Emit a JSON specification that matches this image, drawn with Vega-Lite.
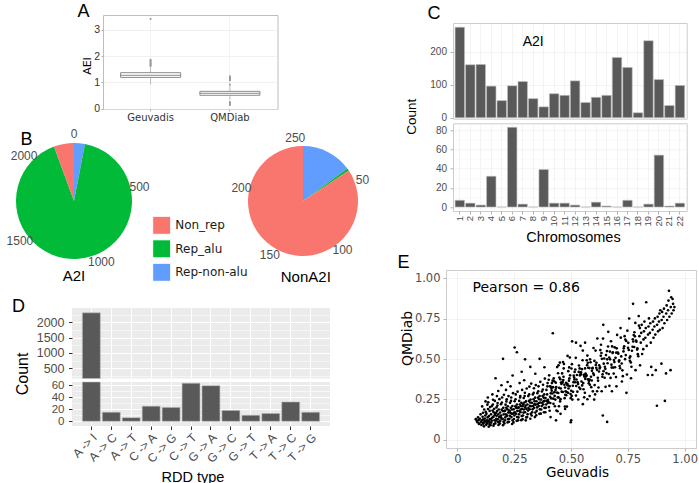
{
"$schema": "https://vega.github.io/schema/vega-lite/v6.json",
"padding": 0,
"background": "white",
"bounds": "flush",
"spacing": 0,
"resolve": {"scale": {"color": "independent"}, "legend": {"color": "independent"}},
"config": {
  "view": {"stroke": null},
  "font": "Liberation Sans",
  "axis": {"domain": false, "labelFont": "Liberation Sans", "titleFont": "Liberation Sans", "titleFontWeight": "normal", "titleColor": "black", "labelColor": "#4D4D4D", "labelFlush": false, "labelOverlap": false, "labelBound": false},
  "title": {"font": "Liberation Sans", "fontSize": 18, "fontWeight": "normal", "color": "black", "anchor": "start", "frame": "group", "baseline": "alphabetic"}
},
"hconcat": [
{
  "bounds": "flush", "spacing": 0,
  "resolve": {"scale": {"color": "independent"}, "legend": {"color": "independent"}},
  "vconcat": [
    {"width": 1, "height": 14.3, "data": {"values": []}, "mark": "point", "encoding": {}},
    {"bounds": "flush", "spacing": 0, "hconcat": [
      {"width": 102.5, "height": 1, "data": {"values": []}, "mark": "point", "encoding": {}},
      {
        "width": 174.5, "height": 94,
        "view": {"stroke": "#BDBDBD", "fill": "white"},
        "title": {"text": "A", "dx": -25.5, "offset": -5.5},
        "data": {"values": [
          {"cohort": "Geuvadis", "part": "whisker", "aei": 0.92, "aei2": 1.6},
          {"cohort": "QMDiab", "part": "whisker", "aei": 0.33, "aei2": 0.9},
          {"cohort": "Geuvadis", "part": "box", "aei": 1.19, "aei2": 1.37},
          {"cohort": "QMDiab", "part": "box", "aei": 0.51, "aei2": 0.66},
          {"cohort": "Geuvadis", "part": "median", "aei": 1.27},
          {"cohort": "QMDiab", "part": "median", "aei": 0.58},
          {"cohort": "Geuvadis", "part": "outlier", "aei": 1.62}, {"cohort": "Geuvadis", "part": "outlier", "aei": 1.65}, {"cohort": "Geuvadis", "part": "outlier", "aei": 1.68},
          {"cohort": "Geuvadis", "part": "outlier", "aei": 1.71}, {"cohort": "Geuvadis", "part": "outlier", "aei": 1.74}, {"cohort": "Geuvadis", "part": "outlier", "aei": 1.77},
          {"cohort": "Geuvadis", "part": "outlier", "aei": 1.8}, {"cohort": "Geuvadis", "part": "outlier", "aei": 1.83}, {"cohort": "Geuvadis", "part": "outlier", "aei": 1.86},
          {"cohort": "Geuvadis", "part": "outlier", "aei": 3.41},
          {"cohort": "QMDiab", "part": "outlier", "aei": 0.92}, {"cohort": "QMDiab", "part": "outlier", "aei": 1.07}, {"cohort": "QMDiab", "part": "outlier", "aei": 1.1},
          {"cohort": "QMDiab", "part": "outlier", "aei": 1.13}, {"cohort": "QMDiab", "part": "outlier", "aei": 1.16}, {"cohort": "QMDiab", "part": "outlier", "aei": 1.2},
          {"cohort": "QMDiab", "part": "outlier", "aei": 1.23}, {"cohort": "QMDiab", "part": "outlier", "aei": 0.14}, {"cohort": "QMDiab", "part": "outlier", "aei": 0.17},
          {"cohort": "QMDiab", "part": "outlier", "aei": 0.2}, {"cohort": "QMDiab", "part": "outlier", "aei": 0.23}, {"cohort": "QMDiab", "part": "outlier", "aei": 0.26}
        ]},
        "encoding": {
          "x": {"field": "cohort", "type": "nominal", "scale": {"domain": ["Geuvadis", "QMDiab"], "paddingInner": 0, "paddingOuter": 0.1},
                "axis": {"title": null, "labelFont": "DejaVu Sans", "labelFontSize": 10, "labelColor": "#333333", "labelAngle": 0, "tickSize": 2, "tickColor": "#B3B3B3", "labelPadding": 1.5, "grid": true, "gridColor": "#EBEBEB", "gridWidth": 0.6, "bandPosition": 0.5}},
          "y": {"field": "aei", "type": "quantitative", "title": "AEI", "scale": {"domain": [-0.01, 3.56], "nice": false, "zero": false},
                "axis": {"title": "AEI", "titleFont": "DejaVu Sans", "titleFontSize": 11, "titleX": -10.5, "titleY": 50.5, "titleAngle": 270, "titleAlign": "center", "titleBaseline": "bottom",
                         "tickCount": 4, "labelOverlap": false, "labelBound": false, "labelFlush": false,
                         "labelFont": "Liberation Sans", "labelFontSize": 10.5, "labelColor": "#333333", "labelPadding": 1.5, "tickSize": 2, "tickColor": "#B3B3B3",
                         "grid": true, "gridColor": "#E8E8E8", "gridWidth": 0.6}}
        },
        "layer": [
          {"transform": [{"filter": "datum.part === 'whisker'"}],
           "mark": {"type": "rule", "color": "#BDBDBD", "strokeWidth": 1},
           "encoding": {"y2": {"field": "aei2"}}},
          {"transform": [{"filter": "datum.part === 'box'"}],
           "mark": {"type": "bar", "fill": "white", "stroke": "#8C8C8C", "strokeWidth": 1, "width": {"band": 0.757}},
           "encoding": {"y2": {"field": "aei2"}}},
          {"transform": [{"filter": "datum.part === 'median'"}],
           "mark": {"type": "tick", "color": "#7A7A7A", "thickness": 1.3, "size": 60}},
          {"transform": [{"filter": "datum.part === 'outlier'"}],
           "mark": {"type": "circle", "color": "#999999", "size": 4, "opacity": 1}}
        ]
      }
    ]},
    {"width": 1, "height": 127.7, "data": {"values": []}, "mark": "point", "encoding": {}},
    {"bounds": "flush", "spacing": 0, "hconcat": [
      {"width": 16, "height": 1, "data": {"values": []}, "mark": "point", "encoding": {}, "title": {"text": "B", "dx": 20.5, "offset": -5.5}},
      {
        "width": 116, "height": 116,
        "title": {"text": "A2I", "orient": "bottom", "anchor": "middle", "baseline": "top", "fontSize": 15, "offset": 1.3},
        "layer": [
          {"data": {"values": [{"cat": "Rep-non-alu", "count": 70, "ord": 1}, {"cat": "Rep_alu", "count": 2110, "ord": 2}, {"cat": "Non_rep", "count": 129, "ord": 3}]},
           "mark": {"type": "arc", "outerRadius": 58},
           "encoding": {
             "theta": {"field": "count", "type": "quantitative", "stack": true, "scale": {"domain": [0, 2309]}},
             "order": {"field": "ord", "type": "quantitative"},
             "color": {"field": "cat", "type": "nominal", "scale": {"domain": ["Non_rep", "Rep_alu", "Rep-non-alu"], "range": ["#F8766D", "#00BA38", "#619CFF"]},
                       "legend": {"orient": "none", "legendX": 152.2, "legendY": 72.8, "title": null, "symbolType": "square", "symbolSize": 324, "symbolStrokeColor": "white", "symbolStrokeWidth": 1, "symbolOpacity": 1, "labelFont": "DejaVu Sans", "labelFontSize": 12, "labelColor": "#1A1A1A", "labelOffset": 4, "rowPadding": 0.5, "padding": 0}}
           }},
          {"data": {"values": [{"tick": 0}, {"tick": 500}, {"tick": 1000}, {"tick": 1500}, {"tick": 2000}]},
           "mark": {"type": "text", "radius": 67, "fontSize": 12, "color": "#4D4D4D", "font": "Liberation Sans"},
           "encoding": {"theta": {"field": "tick", "type": "quantitative", "stack": false}, "text": {"field": "tick", "type": "quantitative", "format": "d"}}}
        ]
      },
      {"width": 113, "height": 1, "data": {"values": []}, "mark": "point", "encoding": {}},
      {
        "width": 116, "height": 116,
        "title": {"text": "NonA2I", "orient": "bottom", "anchor": "middle", "baseline": "top", "fontSize": 15, "offset": 9, "dx": 2.8},
        "layer": [
          {"data": {"values": [{"cat": "Rep-non-alu", "count": 38, "ord": 1}, {"cat": "Rep_alu", "count": 2, "ord": 2}, {"cat": "Non_rep", "count": 215, "ord": 3}]},
           "mark": {"type": "arc", "outerRadius": 55},
           "encoding": {
             "theta": {"field": "count", "type": "quantitative", "stack": true, "scale": {"domain": [0, 255]}},
             "order": {"field": "ord", "type": "quantitative"},
             "color": {"field": "cat", "type": "nominal", "scale": {"domain": ["Non_rep", "Rep_alu", "Rep-non-alu"], "range": ["#F8766D", "#00BA38", "#619CFF"]},
                       "legend": {"orient": "none", "legendX": 152.2, "legendY": 72.8, "title": null, "symbolType": "square", "symbolSize": 324, "symbolStrokeColor": "white", "symbolStrokeWidth": 1, "symbolOpacity": 1, "labelFont": "DejaVu Sans", "labelFontSize": 12, "labelColor": "#1A1A1A", "labelOffset": 4, "rowPadding": 0.5, "padding": 0}}
           }},
          {"data": {"values": [{"tick": 50}, {"tick": 100}, {"tick": 150}, {"tick": 200}, {"tick": 250}]},
           "mark": {"type": "text", "radius": 63, "fontSize": 12, "color": "#4D4D4D", "font": "Liberation Sans"},
           "encoding": {"theta": {"field": "tick", "type": "quantitative", "stack": false}, "text": {"field": "tick", "type": "quantitative", "format": "d"}}}
        ]
      }
    ]},
    {"width": 1, "height": 164.7, "data": {"values": []}, "mark": "point", "encoding": {}},
    {"bounds": "flush", "spacing": 0, "hconcat": [
      {"width": 72, "height": 1, "data": {"values": []}, "mark": "point", "encoding": {}},
      {"bounds": "flush", "spacing": 3, "vconcat": [
        {
          "width": 258, "height": 70.6,
          "view": {"fill": "#EBEBEB", "stroke": null},
          "title": {"text": "D", "dx": -60, "offset": -7.8},
          "data": {"values": [
            {"rdd": "A -> I", "count": 2309}, {"rdd": "A -> C", "count": 15}, {"rdd": "A -> T", "count": 6}, {"rdd": "C -> A", "count": 25},
            {"rdd": "C -> G", "count": 23}, {"rdd": "C -> T", "count": 63}, {"rdd": "G -> A", "count": 59}, {"rdd": "G -> C", "count": 18},
            {"rdd": "G -> T", "count": 10}, {"rdd": "T -> A", "count": 13}, {"rdd": "T -> C", "count": 32}, {"rdd": "T -> G", "count": 15}
          ]},
          "transform": [{"filter": "datum.count > 164"}],
          "mark": {"type": "bar", "color": "#595959", "stroke": "#BDBDBD", "strokeWidth": 0.6},
          "encoding": {
            "x": {"field": "rdd", "type": "nominal", "scale": {"domain": ["A -> I", "A -> C", "A -> T", "C -> A", "C -> G", "C -> T", "G -> A", "G -> C", "G -> T", "T -> A", "T -> C", "T -> G"], "paddingInner": 0.1, "paddingOuter": 0.52},
                  "axis": {"title": null, "labels": false, "ticks": false, "grid": true, "gridColor": "white", "gridWidth": 1.1, "bandPosition": 0.5}},
            "y": {"field": "count", "type": "quantitative", "scale": {"domain": [164, 2466], "nice": false, "zero": false, "clamp": true},
                  "axis": {"title": null, "values": [250, 500, 750, 1000, 1250, 1500, 1750, 2000, 2250], "labelExpr": "datum.value % 500 === 0 ? format(datum.value, 'd') : ''",
                           "labelFontSize": 12.5, "labelPadding": 4.5, "tickSize": 3.5, "tickColor": "#333333",
                           "tickOpacity": {"condition": {"test": "datum.value % 500 === 0", "value": 1}, "value": 0},
                           "grid": true, "gridColor": "white", "gridWidth": {"condition": {"test": "datum.value % 500 === 0", "value": 1.1}, "value": 0.55}}},
            "y2": {"datum": 0}
          }
        },
        {
          "width": 258, "height": 44,
          "view": {"fill": "#EBEBEB", "stroke": null},
          "data": {"values": [
            {"rdd": "A -> I", "count": 2309}, {"rdd": "A -> C", "count": 15}, {"rdd": "A -> T", "count": 6}, {"rdd": "C -> A", "count": 25},
            {"rdd": "C -> G", "count": 23}, {"rdd": "C -> T", "count": 63}, {"rdd": "G -> A", "count": 59}, {"rdd": "G -> C", "count": 18},
            {"rdd": "G -> T", "count": 10}, {"rdd": "T -> A", "count": 13}, {"rdd": "T -> C", "count": 32}, {"rdd": "T -> G", "count": 15}
          ]},
          "mark": {"type": "bar", "color": "#595959", "stroke": "#BDBDBD", "strokeWidth": 0.6},
          "encoding": {
            "x": {"field": "rdd", "type": "nominal", "scale": {"domain": ["A -> I", "A -> C", "A -> T", "C -> A", "C -> G", "C -> T", "G -> A", "G -> C", "G -> T", "T -> A", "T -> C", "T -> G"], "paddingInner": 0.1, "paddingOuter": 0.52},
                  "axis": {"title": "RDD type", "titleFontSize": 14.5, "titleX": 120.5, "titleY": 44, "titleBaseline": "top", "titleAlign": "center",
                           "labelAngle": -45, "labelAlign": "right", "labelBaseline": "top", "labelFontSize": 12, "labelPadding": 2, "tickSize": 3.5, "tickColor": "#333333",
                           "grid": true, "gridColor": "white", "gridWidth": 1.1, "bandPosition": 0.5}},
            "y": {"field": "count", "type": "quantitative", "scale": {"domain": [-7.8, 65], "nice": false, "zero": false, "clamp": true},
                  "axis": {"title": "Count", "titleFontSize": 16, "titleX": -42, "titleY": -8.6, "titleAngle": 270, "titleAlign": "center", "titleBaseline": "bottom",
                           "values": [0, 10, 20, 30, 40, 50, 60], "labelExpr": "datum.value % 20 === 0 ? datum.label : ''",
                           "labelFontSize": 11.5, "labelPadding": 4.5, "tickSize": 3.5, "tickColor": "#333333",
                           "tickOpacity": {"condition": {"test": "datum.value % 20 === 0", "value": 1}, "value": 0},
                           "grid": true, "gridColor": "white", "gridWidth": {"condition": {"test": "datum.value % 20 === 0", "value": 1.1}, "value": 0.55}}},
            "y2": {"datum": 0}
          }
        }
      ]}
    ]}
  ]
},
{"width": 446, "height": 1, "data": {"values": []}, "mark": "point", "encoding": {}},
{
  "bounds": "flush", "spacing": 0,
  "vconcat": [
    {"width": 1, "height": 22.3, "data": {"values": []}, "mark": "point", "encoding": {}},
    {"bounds": "flush", "spacing": 0, "hconcat": [
      {"width": 7, "height": 1, "data": {"values": []}, "mark": "point", "encoding": {}},
      {"bounds": "flush", "spacing": 4.3, "vconcat": [
        {
          "width": 233.7, "height": 95.7,
          "view": {"stroke": "#CCCCCC", "fill": "white"},
          "title": {"text": "C", "dx": -25.6, "offset": 0.1},
          "data": {"values": [
            {"chrom": "1", "a2i": 275, "nona2i": 7}, {"chrom": "2", "a2i": 161, "nona2i": 4}, {"chrom": "3", "a2i": 162, "nona2i": 2}, {"chrom": "4", "a2i": 96, "nona2i": 32},
            {"chrom": "5", "a2i": 52, "nona2i": 0}, {"chrom": "6", "a2i": 97, "nona2i": 83}, {"chrom": "7", "a2i": 110, "nona2i": 3}, {"chrom": "8", "a2i": 58, "nona2i": 0},
            {"chrom": "9", "a2i": 33, "nona2i": 39}, {"chrom": "10", "a2i": 73, "nona2i": 4}, {"chrom": "11", "a2i": 68, "nona2i": 4}, {"chrom": "12", "a2i": 112, "nona2i": 2},
            {"chrom": "13", "a2i": 46, "nona2i": 0}, {"chrom": "14", "a2i": 62, "nona2i": 5}, {"chrom": "15", "a2i": 68, "nona2i": 1}, {"chrom": "16", "a2i": 183, "nona2i": 0},
            {"chrom": "17", "a2i": 153, "nona2i": 7}, {"chrom": "18", "a2i": 15, "nona2i": 0}, {"chrom": "19", "a2i": 234, "nona2i": 3}, {"chrom": "20", "a2i": 116, "nona2i": 54},
            {"chrom": "21", "a2i": 37, "nona2i": 1}, {"chrom": "22", "a2i": 98, "nona2i": 4}
          ]},
          "layer": [
            {"mark": {"type": "bar", "color": "#595959", "stroke": "#BDBDBD", "strokeWidth": 0.6},
             "encoding": {
               "x": {"field": "chrom", "type": "nominal", "sort": null, "scale": {"domain": ["1","2","3","4","5","6","7","8","9","10","11","12","13","14","15","16","17","18","19","20","21","22"], "paddingInner": 0.1, "paddingOuter": 0.2},
                     "axis": {"title": null, "labels": false, "ticks": false, "grid": true, "gridColor": "#EDEDED", "gridWidth": 0.6, "bandPosition": 0.5}},
               "y": {"field": "a2i", "type": "quantitative", "scale": {"domain": [-3, 288], "nice": false, "zero": false},
                     "axis": {"title": null, "values": [0, 50, 100, 150, 200, 250], "labelExpr": "datum.value % 100 === 0 ? datum.label : ''",
                              "labelFontSize": 10, "labelPadding": 3.5, "tickSize": 3, "tickColor": "#B3B3B3",
                              "tickOpacity": {"condition": {"test": "datum.value % 100 === 0", "value": 1}, "value": 0},
                              "grid": true, "gridColor": {"condition": {"test": "datum.value % 100 === 0", "value": "#EBEBEB"}, "value": "#F5F5F5"}, "gridWidth": 0.6}},
               "y2": {"datum": 0}
             }},
            {"data": {"values": [{"chrom": "8", "a2i": 231, "label": "A2I"}]},
             "mark": {"type": "text", "fontSize": 14, "color": "black", "font": "Liberation Sans"},
             "encoding": {"x": {"field": "chrom", "type": "nominal"}, "y": {"field": "a2i", "type": "quantitative"}, "text": {"field": "label"}}}
          ]
        },
        {
          "width": 233.7, "height": 87.7,
          "view": {"stroke": "#CCCCCC", "fill": "white"},
          "data": {"values": [
            {"chrom": "1", "a2i": 275, "nona2i": 7}, {"chrom": "2", "a2i": 161, "nona2i": 4}, {"chrom": "3", "a2i": 162, "nona2i": 2}, {"chrom": "4", "a2i": 96, "nona2i": 32},
            {"chrom": "5", "a2i": 52, "nona2i": 0}, {"chrom": "6", "a2i": 97, "nona2i": 83}, {"chrom": "7", "a2i": 110, "nona2i": 3}, {"chrom": "8", "a2i": 58, "nona2i": 0},
            {"chrom": "9", "a2i": 33, "nona2i": 39}, {"chrom": "10", "a2i": 73, "nona2i": 4}, {"chrom": "11", "a2i": 68, "nona2i": 4}, {"chrom": "12", "a2i": 112, "nona2i": 2},
            {"chrom": "13", "a2i": 46, "nona2i": 0}, {"chrom": "14", "a2i": 62, "nona2i": 5}, {"chrom": "15", "a2i": 68, "nona2i": 1}, {"chrom": "16", "a2i": 183, "nona2i": 0},
            {"chrom": "17", "a2i": 153, "nona2i": 7}, {"chrom": "18", "a2i": 15, "nona2i": 0}, {"chrom": "19", "a2i": 234, "nona2i": 3}, {"chrom": "20", "a2i": 116, "nona2i": 54},
            {"chrom": "21", "a2i": 37, "nona2i": 1}, {"chrom": "22", "a2i": 98, "nona2i": 4}
          ]},
          "mark": {"type": "bar", "color": "#595959", "stroke": "#BDBDBD", "strokeWidth": 0.6},
          "encoding": {
            "x": {"field": "chrom", "type": "nominal", "sort": null, "scale": {"domain": ["1","2","3","4","5","6","7","8","9","10","11","12","13","14","15","16","17","18","19","20","21","22"], "paddingInner": 0.1, "paddingOuter": 0.2},
                  "axis": {"title": "Chromosomes", "titleFontSize": 14.5, "titleX": 120, "titleY": 19, "titleBaseline": "top", "titleAlign": "center",
                           "labelAngle": 270, "labelAlign": "right", "labelBaseline": "middle", "labelFontSize": 9.5, "labelPadding": 1.5, "tickSize": 3, "tickColor": "#B3B3B3",
                           "grid": true, "gridColor": "#EDEDED", "gridWidth": 0.6, "bandPosition": 0.5}},
            "y": {"field": "nona2i", "type": "quantitative", "scale": {"domain": [-4.15, 87.15], "nice": false, "zero": false},
                  "axis": {"title": "Count", "titleFontSize": 13.5, "titleX": -35, "titleY": -7, "titleAngle": 270, "titleAlign": "center", "titleBaseline": "bottom",
                           "values": [0, 10, 20, 30, 40, 50, 60, 70, 80], "labelExpr": "datum.value % 20 === 0 ? datum.label : ''",
                           "labelFontSize": 10, "labelPadding": 3.5, "tickSize": 3, "tickColor": "#B3B3B3",
                           "tickOpacity": {"condition": {"test": "datum.value % 20 === 0", "value": 1}, "value": 0},
                           "grid": true, "gridColor": {"condition": {"test": "datum.value % 20 === 0", "value": "#EBEBEB"}, "value": "#F5F5F5"}, "gridWidth": 0.6}},
            "y2": {"datum": 0}
          }
        }
      ]}
    ]},
    {"width": 1, "height": 246.7, "data": {"values": []}, "mark": "point", "encoding": {}},
    {
      "width": 250, "height": 178,
      "view": {"stroke": "#CCCCCC", "fill": "white"},
      "title": {"text": "E", "dx": -48.5, "offset": -1.5},
      "layer": [
        {"data": {"values": [
{"g":0.081,"q":0.128},{"g":0.085,"q":0.118},{"g":0.088,"q":0.109},{"g":0.091,"q":0.139},{"g":0.093,"q":0.122},{"g":0.097,"q":0.101},{"g":0.099,"q":0.131},{"g":0.102,"q":0.158},{"g":0.104,"q":0.112},{"g":0.095,"q":0.098},
{"g":0.106,"q":0.092},{"g":0.108,"q":0.121},{"g":0.111,"q":0.143},{"g":0.113,"q":0.168},{"g":0.109,"q":0.207},{"g":0.115,"q":0.101},{"g":0.117,"q":0.084},{"g":0.119,"q":0.113},{"g":0.121,"q":0.132},{"g":0.123,"q":0.151},{"g":0.118,"q":0.188},{"g":0.124,"q":0.238},{"g":0.112,"q":0.104},{"g":0.122,"q":0.118},{"g":0.114,"q":0.127},{"g":0.125,"q":0.173},
{"g":0.127,"q":0.093},{"g":0.129,"q":0.108},{"g":0.131,"q":0.121},{"g":0.133,"q":0.139},{"g":0.128,"q":0.162},{"g":0.135,"q":0.191},{"g":0.132,"q":0.218},{"g":0.134,"q":0.262},{"g":0.138,"q":0.082},{"g":0.141,"q":0.099},{"g":0.137,"q":0.117},{"g":0.143,"q":0.128},{"g":0.139,"q":0.148},{"g":0.142,"q":0.179},{"g":0.144,"q":0.203},{"g":0.136,"q":0.232},{"g":0.14,"q":0.112},{"g":0.13,"q":0.102},
{"g":0.146,"q":0.091},{"g":0.149,"q":0.107},{"g":0.151,"q":0.119},{"g":0.153,"q":0.137},{"g":0.148,"q":0.158},{"g":0.155,"q":0.181},{"g":0.152,"q":0.209},{"g":0.157,"q":0.248},{"g":0.154,"q":0.281},{"g":0.147,"q":0.129},{"g":0.159,"q":0.088},{"g":0.161,"q":0.098},{"g":0.163,"q":0.121},{"g":0.158,"q":0.142},{"g":0.164,"q":0.152},{"g":0.16,"q":0.171},{"g":0.162,"q":0.192},{"g":0.156,"q":0.219},{"g":0.165,"q":0.241},{"g":0.168,"q":0.381},
{"g":0.167,"q":0.102},{"g":0.169,"q":0.118},{"g":0.171,"q":0.131},{"g":0.173,"q":0.149},{"g":0.166,"q":0.161},{"g":0.175,"q":0.178},{"g":0.172,"q":0.201},{"g":0.177,"q":0.228},{"g":0.174,"q":0.271},{"g":0.179,"q":0.111},{"g":0.181,"q":0.092},{"g":0.183,"q":0.108},{"g":0.178,"q":0.127},{"g":0.184,"q":0.141},{"g":0.18,"q":0.158},{"g":0.182,"q":0.188},{"g":0.176,"q":0.212},{"g":0.185,"q":0.252},{"g":0.18,"q":0.302},{"g":0.17,"q":0.168},
{"g":0.187,"q":0.101},{"g":0.189,"q":0.119},{"g":0.191,"q":0.138},{"g":0.193,"q":0.151},{"g":0.188,"q":0.169},{"g":0.195,"q":0.187},{"g":0.192,"q":0.221},{"g":0.197,"q":0.262},{"g":0.194,"q":0.338},{"g":0.199,"q":0.129},{"g":0.201,"q":0.091},{"g":0.203,"q":0.112},{"g":0.198,"q":0.131},{"g":0.204,"q":0.158},{"g":0.2,"q":0.178},{"g":0.202,"q":0.198},{"g":0.196,"q":0.231},{"g":0.205,"q":0.279},{"g":0.201,"q":0.501},{"g":0.19,"q":0.148},
{"g":0.207,"q":0.102},{"g":0.209,"q":0.121},{"g":0.211,"q":0.139},{"g":0.213,"q":0.158},{"g":0.208,"q":0.178},{"g":0.215,"q":0.199},{"g":0.212,"q":0.218},{"g":0.217,"q":0.251},{"g":0.214,"q":0.309},{"g":0.219,"q":0.149},{"g":0.221,"q":0.108},{"g":0.223,"q":0.128},{"g":0.218,"q":0.151},{"g":0.224,"q":0.169},{"g":0.22,"q":0.189},{"g":0.222,"q":0.208},{"g":0.216,"q":0.238},{"g":0.225,"q":0.271},{"g":0.221,"q":0.358},{"g":0.21,"q":0.181},
{"g":0.227,"q":0.112},{"g":0.229,"q":0.131},{"g":0.231,"q":0.149},{"g":0.233,"q":0.168},{"g":0.228,"q":0.181},{"g":0.235,"q":0.198},{"g":0.232,"q":0.229},{"g":0.237,"q":0.262},{"g":0.234,"q":0.331},{"g":0.239,"q":0.162},{"g":0.241,"q":0.098},{"g":0.243,"q":0.121},{"g":0.238,"q":0.141},{"g":0.244,"q":0.161},{"g":0.24,"q":0.188},{"g":0.242,"q":0.209},{"g":0.236,"q":0.241},{"g":0.245,"q":0.289},{"g":0.243,"q":0.398},{"g":0.23,"q":0.178},
{"g":0.247,"q":0.108},{"g":0.249,"q":0.129},{"g":0.251,"q":0.151},{"g":0.253,"q":0.171},{"g":0.248,"q":0.189},{"g":0.255,"q":0.208},{"g":0.252,"q":0.239},{"g":0.257,"q":0.281},{"g":0.252,"q":0.571},{"g":0.259,"q":0.198},{"g":0.261,"q":0.118},{"g":0.263,"q":0.141},{"g":0.258,"q":0.161},{"g":0.264,"q":0.179},{"g":0.26,"q":0.201},{"g":0.262,"q":0.219},{"g":0.256,"q":0.251},{"g":0.265,"q":0.298},{"g":0.262,"q":0.542},{"g":0.25,"q":0.168},
{"g":0.267,"q":0.121},{"g":0.269,"q":0.139},{"g":0.271,"q":0.158},{"g":0.273,"q":0.178},{"g":0.268,"q":0.198},{"g":0.275,"q":0.219},{"g":0.272,"q":0.241},{"g":0.277,"q":0.271},{"g":0.274,"q":0.351},{"g":0.279,"q":0.188},{"g":0.281,"q":0.122},{"g":0.283,"q":0.148},{"g":0.278,"q":0.171},{"g":0.284,"q":0.191},{"g":0.28,"q":0.209},{"g":0.282,"q":0.229},{"g":0.276,"q":0.262},{"g":0.285,"q":0.309},{"g":0.283,"q":0.421},{"g":0.27,"q":0.201},
{"g":0.287,"q":0.128},{"g":0.289,"q":0.151},{"g":0.291,"q":0.169},{"g":0.293,"q":0.188},{"g":0.288,"q":0.208},{"g":0.295,"q":0.231},{"g":0.292,"q":0.259},{"g":0.297,"q":0.291},{"g":0.294,"q":0.369},{"g":0.299,"q":0.201},{"g":0.301,"q":0.121},{"g":0.303,"q":0.139},{"g":0.298,"q":0.171},{"g":0.304,"q":0.191},{"g":0.3,"q":0.212},{"g":0.302,"q":0.238},{"g":0.296,"q":0.271},{"g":0.305,"q":0.318},{"g":0.298,"q":0.498},{"g":0.29,"q":0.221},
{"g":0.307,"q":0.141},{"g":0.309,"q":0.159},{"g":0.311,"q":0.181},{"g":0.313,"q":0.198},{"g":0.308,"q":0.219},{"g":0.315,"q":0.241},{"g":0.312,"q":0.271},{"g":0.317,"q":0.329},{"g":0.319,"q":0.211},{"g":0.321,"q":0.131},{"g":0.323,"q":0.161},{"g":0.318,"q":0.189},{"g":0.324,"q":0.208},{"g":0.32,"q":0.231},{"g":0.322,"q":0.249},{"g":0.316,"q":0.281},{"g":0.325,"q":0.348},{"g":0.321,"q":0.451},
{"g":0.327,"q":0.151},{"g":0.329,"q":0.171},{"g":0.331,"q":0.189},{"g":0.333,"q":0.209},{"g":0.328,"q":0.229},{"g":0.335,"q":0.251},{"g":0.332,"q":0.281},{"g":0.337,"q":0.319},{"g":0.339,"q":0.221},{"g":0.341,"q":0.141},{"g":0.343,"q":0.169},{"g":0.338,"q":0.198},{"g":0.344,"q":0.218},{"g":0.34,"q":0.239},{"g":0.342,"q":0.261},{"g":0.336,"q":0.291},{"g":0.345,"q":0.339},{"g":0.343,"q":0.409},
{"g":0.347,"q":0.152},{"g":0.349,"q":0.179},{"g":0.351,"q":0.201},{"g":0.353,"q":0.221},{"g":0.348,"q":0.239},{"g":0.355,"q":0.261},{"g":0.352,"q":0.289},{"g":0.357,"q":0.331},{"g":0.359,"q":0.228},{"g":0.361,"q":0.161},{"g":0.363,"q":0.189},{"g":0.358,"q":0.209},{"g":0.364,"q":0.231},{"g":0.36,"q":0.251},{"g":0.362,"q":0.271},{"g":0.356,"q":0.301},{"g":0.365,"q":0.359},{"g":0.362,"q":0.501},
{"g":0.367,"q":0.162},{"g":0.369,"q":0.188},{"g":0.371,"q":0.209},{"g":0.373,"q":0.229},{"g":0.368,"q":0.249},{"g":0.375,"q":0.271},{"g":0.372,"q":0.299},{"g":0.377,"q":0.341},{"g":0.379,"q":0.238},{"g":0.381,"q":0.171},{"g":0.383,"q":0.198},{"g":0.378,"q":0.219},{"g":0.384,"q":0.241},{"g":0.38,"q":0.261},{"g":0.382,"q":0.281},{"g":0.376,"q":0.311},{"g":0.385,"q":0.379},{"g":0.383,"q":0.449},
{"g":0.387,"q":0.171},{"g":0.389,"q":0.198},{"g":0.391,"q":0.219},{"g":0.393,"q":0.241},{"g":0.388,"q":0.259},{"g":0.395,"q":0.281},{"g":0.392,"q":0.309},{"g":0.397,"q":0.351},{"g":0.399,"q":0.248},{"g":0.398,"q":0.229},{"g":0.396,"q":0.331},{"g":0.41,"q":0.141},
{"g":0.403,"q":0.203},{"g":0.414,"q":0.316},{"g":0.408,"q":0.266},{"g":0.419,"q":0.366},{"g":0.411,"q":0.288},{"g":0.401,"q":0.235},{"g":0.416,"q":0.351},{"g":0.406,"q":0.18},{"g":0.412,"q":0.328},{"g":0.418,"q":0.287},{"g":0.404,"q":0.399},{"g":0.409,"q":0.228},{"g":0.415,"q":0.304},{"g":0.402,"q":0.372},{"g":0.413,"q":0.257},{"g":0.407,"q":0.331},
{"g":0.423,"q":0.223},{"g":0.434,"q":0.323},{"g":0.428,"q":0.272},{"g":0.439,"q":0.45},{"g":0.431,"q":0.249},{"g":0.421,"q":0.326},{"g":0.436,"q":0.182},{"g":0.426,"q":0.362},{"g":0.432,"q":0.309},{"g":0.438,"q":0.293},{"g":0.424,"q":0.38},{"g":0.429,"q":0.208},{"g":0.435,"q":0.327},{"g":0.422,"q":0.255},{"g":0.433,"q":0.354},{"g":0.427,"q":0.295},
{"g":0.443,"q":0.412},{"g":0.454,"q":0.252},{"g":0.448,"q":0.322},{"g":0.459,"q":0.298},{"g":0.451,"q":0.478},{"g":0.441,"q":0.177},{"g":0.456,"q":0.355},{"g":0.446,"q":0.262},{"g":0.452,"q":0.238},{"g":0.458,"q":0.346},{"g":0.444,"q":0.29},{"g":0.449,"q":0.385},{"g":0.455,"q":0.318},{"g":0.442,"q":0.263},{"g":0.453,"q":0.375},{"g":0.447,"q":0.208},
{"g":0.463,"q":0.36},{"g":0.474,"q":0.324},{"g":0.468,"q":0.442},{"g":0.479,"q":0.276},{"g":0.471,"q":0.341},{"g":0.461,"q":0.411},{"g":0.476,"q":0.3},{"g":0.466,"q":0.37},{"g":0.472,"q":0.258},{"g":0.478,"q":0.353},{"g":0.464,"q":0.296},{"g":0.469,"q":0.469},{"g":0.475,"q":0.279},{"g":0.462,"q":0.354},{"g":0.473,"q":0.206},{"g":0.467,"q":0.39},
{"g":0.483,"q":0.343},{"g":0.494,"q":0.332},{"g":0.488,"q":0.425},{"g":0.499,"q":0.258},{"g":0.491,"q":0.366},{"g":0.481,"q":0.296},{"g":0.496,"q":0.399},{"g":0.486,"q":0.336},{"g":0.492,"q":0.448},{"g":0.498,"q":0.283},{"g":0.484,"q":0.347},{"g":0.489,"q":0.318},{"g":0.495,"q":0.509},{"g":0.482,"q":0.206},{"g":0.493,"q":0.38},{"g":0.487,"q":0.291},
{"g":0.503,"q":0.272},{"g":0.514,"q":0.385},{"g":0.508,"q":0.335},{"g":0.519,"q":0.435},{"g":0.511,"q":0.357},{"g":0.501,"q":0.304},{"g":0.516,"q":0.42},{"g":0.506,"q":0.249},{"g":0.512,"q":0.397},{"g":0.518,"q":0.356},{"g":0.504,"q":0.468},{"g":0.509,"q":0.297},{"g":0.515,"q":0.373},{"g":0.502,"q":0.441},
{"g":0.523,"q":0.333},{"g":0.534,"q":0.42},{"g":0.528,"q":0.298},{"g":0.539,"q":0.398},{"g":0.531,"q":0.346},{"g":0.521,"q":0.507},{"g":0.536,"q":0.324},{"g":0.526,"q":0.401},{"g":0.532,"q":0.25},{"g":0.538,"q":0.442},{"g":0.524,"q":0.373},{"g":0.529,"q":0.357},{"g":0.535,"q":0.46},{"g":0.522,"q":0.274},
{"g":0.543,"q":0.404},{"g":0.554,"q":0.351},{"g":0.548,"q":0.437},{"g":0.559,"q":0.391},{"g":0.551,"q":0.492},{"g":0.541,"q":0.315},{"g":0.556,"q":0.402},{"g":0.546,"q":0.361},{"g":0.552,"q":0.552},{"g":0.558,"q":0.263},{"g":0.544,"q":0.418},{"g":0.549,"q":0.337},{"g":0.555,"q":0.313},{"g":0.542,"q":0.407},
{"g":0.563,"q":0.377},{"g":0.574,"q":0.477},{"g":0.568,"q":0.4},{"g":0.579,"q":0.364},{"g":0.571,"q":0.462},{"g":0.561,"q":0.291},{"g":0.576,"q":0.446},{"g":0.566,"q":0.393},{"g":0.572,"q":0.521},{"g":0.578,"q":0.35},{"g":0.564,"q":0.41},{"g":0.569,"q":0.492},{"g":0.575,"q":0.374},{"g":0.562,"q":0.442},
{"g":0.583,"q":0.341},{"g":0.594,"q":0.441},{"g":0.588,"q":0.39},{"g":0.599,"q":0.568},{"g":0.591,"q":0.367},{"g":0.581,"q":0.444},{"g":0.596,"q":0.3},{"g":0.586,"q":0.48},{"g":0.592,"q":0.427},{"g":0.598,"q":0.411},{"g":0.584,"q":0.498},{"g":0.589,"q":0.326},{"g":0.595,"q":0.445},{"g":0.582,"q":0.373},
{"g":0.603,"q":0.488},{"g":0.614,"q":0.433},{"g":0.608,"q":0.552},{"g":0.619,"q":0.366},{"g":0.611,"q":0.446},{"g":0.601,"q":0.401},{"g":0.616,"q":0.627},{"g":0.606,"q":0.281},{"g":0.612,"q":0.477},{"g":0.618,"q":0.384},{"g":0.604,"q":0.339},{"g":0.609,"q":0.463},
{"g":0.623,"q":0.423},{"g":0.634,"q":0.537},{"g":0.628,"q":0.449},{"g":0.639,"q":0.406},{"g":0.631,"q":0.52},{"g":0.621,"q":0.324},{"g":0.636,"q":0.501},{"g":0.626,"q":0.441},{"g":0.632,"q":0.588},{"g":0.638,"q":0.39},{"g":0.624,"q":0.461},{"g":0.629,"q":0.555},
{"g":0.643,"q":0.425},{"g":0.654,"q":0.524},{"g":0.648,"q":0.384},{"g":0.659,"q":0.498},{"g":0.651,"q":0.439},{"g":0.641,"q":0.626},{"g":0.656,"q":0.413},{"g":0.646,"q":0.503},{"g":0.652,"q":0.328},{"g":0.658,"q":0.549},{"g":0.644,"q":0.471},{"g":0.649,"q":0.452},
{"g":0.663,"q":0.577},{"g":0.674,"q":0.383},{"g":0.668,"q":0.509},{"g":0.679,"q":0.447},{"g":0.671,"q":0.546},{"g":0.661,"q":0.474},{"g":0.676,"q":0.61},{"g":0.666,"q":0.407},{"g":0.672,"q":0.498},{"g":0.678,"q":0.465},{"g":0.664,"q":0.668},{"g":0.669,"q":0.334},
{"g":0.683,"q":0.537},{"g":0.694,"q":0.449},{"g":0.688,"q":0.41},{"g":0.699,"q":0.539},{"g":0.691,"q":0.481},{"g":0.681,"q":0.578},{"g":0.696,"q":0.507},{"g":0.686,"q":0.447},{"g":0.692,"q":0.572},{"g":0.698,"q":0.388},{"g":0.684,"q":0.542},{"g":0.689,"q":0.494},
{"g":0.703,"q":0.649},{"g":0.714,"q":0.456},{"g":0.708,"q":0.533},{"g":0.719,"q":0.632},{"g":0.711,"q":0.484},{"g":0.701,"q":0.566},{"g":0.716,"q":0.443},{"g":0.706,"q":0.54},{"g":0.712,"q":0.492},{"g":0.718,"q":0.691},
{"g":0.723,"q":0.472},{"g":0.734,"q":0.579},{"g":0.728,"q":0.394},{"g":0.739,"q":0.62},{"g":0.731,"q":0.547},{"g":0.721,"q":0.516},{"g":0.736,"q":0.641},{"g":0.726,"q":0.43},{"g":0.732,"q":0.566},{"g":0.738,"q":0.499},
{"g":0.743,"q":0.611},{"g":0.754,"q":0.556},{"g":0.748,"q":0.675},{"g":0.759,"q":0.489},{"g":0.751,"q":0.569},{"g":0.741,"q":0.524},{"g":0.756,"q":0.75},{"g":0.746,"q":0.404},{"g":0.752,"q":0.6},{"g":0.758,"q":0.507},
{"g":0.763,"q":0.479},{"g":0.774,"q":0.608},{"g":0.768,"q":0.551},{"g":0.779,"q":0.665},{"g":0.771,"q":0.576},{"g":0.761,"q":0.516},{"g":0.776,"q":0.648},{"g":0.766,"q":0.452},{"g":0.772,"q":0.622},{"g":0.778,"q":0.574},
{"g":0.783,"q":0.723},{"g":0.794,"q":0.53},{"g":0.788,"q":0.607},{"g":0.799,"q":0.706},{"g":0.791,"q":0.558},{"g":0.781,"q":0.64},{"g":0.796,"q":0.517},{"g":0.786,"q":0.614},{"g":0.792,"q":0.566},{"g":0.798,"q":0.765},
{"g":0.42,"q":0.659},{"g":0.434,"q":0.121},{"g":0.454,"q":0.161},{"g":0.474,"q":0.191},{"g":0.499,"q":0.109},{"g":0.501,"q":0.121},{"g":0.505,"q":0.609},{"g":0.522,"q":0.601},{"g":0.542,"q":0.581},{"g":0.562,"q":0.601},{"g":0.602,"q":0.249},{"g":0.642,"q":0.711},{"g":0.64,"q":0.151},{"g":0.659,"q":0.111},{"g":0.744,"q":0.291},{"g":0.773,"q":0.841},{"g":0.764,"q":0.381},{"g":0.784,"q":0.431},{"g":0.68,"q":0.301},{"g":0.7,"q":0.331},{"g":0.724,"q":0.361},{"g":0.635,"q":0.301},{"g":0.615,"q":0.301},{"g":0.552,"q":0.221},{"g":0.572,"q":0.251},{"g":0.582,"q":0.271},{"g":0.465,"q":0.481},{"g":0.485,"q":0.519},{"g":0.445,"q":0.461},
{"g":0.801,"q":0.641},{"g":0.803,"q":0.691},{"g":0.804,"q":0.461},
{"g":0.807,"q":0.601},{"g":0.809,"q":0.661},{"g":0.811,"q":0.711},{"g":0.813,"q":0.531},{"g":0.819,"q":0.621},{"g":0.821,"q":0.671},{"g":0.823,"q":0.731},{"g":0.818,"q":0.561},
{"g":0.827,"q":0.631},{"g":0.829,"q":0.691},{"g":0.831,"q":0.851},{"g":0.833,"q":0.581},{"g":0.839,"q":0.651},{"g":0.841,"q":0.701},{"g":0.843,"q":0.751},{"g":0.838,"q":0.401},
{"g":0.847,"q":0.661},{"g":0.849,"q":0.721},{"g":0.851,"q":0.601},{"g":0.853,"q":0.451},{"g":0.859,"q":0.681},{"g":0.861,"q":0.731},{"g":0.863,"q":0.631},{"g":0.858,"q":0.401},
{"g":0.867,"q":0.701},{"g":0.869,"q":0.751},{"g":0.871,"q":0.651},{"g":0.873,"q":0.431},{"g":0.879,"q":0.711},{"g":0.881,"q":0.761},{"g":0.883,"q":0.671},{"g":0.878,"q":0.211},
{"g":0.887,"q":0.731},{"g":0.889,"q":0.781},{"g":0.891,"q":0.681},{"g":0.893,"q":0.801},{"g":0.899,"q":0.741},{"g":0.901,"q":0.791},{"g":0.903,"q":0.691},{"g":0.898,"q":0.471},
{"g":0.907,"q":0.761},{"g":0.909,"q":0.811},{"g":0.911,"q":0.721},{"g":0.913,"q":0.241},{"g":0.919,"q":0.781},{"g":0.921,"q":0.831},{"g":0.923,"q":0.741},{"g":0.918,"q":0.411},
{"g":0.927,"q":0.801},{"g":0.929,"q":0.861},{"g":0.931,"q":0.921},{"g":0.933,"q":0.761},{"g":0.939,"q":0.821},{"g":0.941,"q":0.881},{"g":0.943,"q":0.781},{"g":0.938,"q":0.431},{"g":0.949,"q":0.841},{"g":0.951,"q":0.801},{"g":0.955,"q":0.821},{"g":0.947,"q":0.871}
         ]},
         "mark": {"type": "circle", "size": 7, "color": "black", "opacity": 1},
         "encoding": {
           "x": {"field": "g", "type": "quantitative", "scale": {"domain": [-0.05, 1.05], "nice": false, "zero": false},
                 "axis": {"title": "Geuvadis", "titleFont": "DejaVu Sans", "titleFontSize": 13.5, "titleX": 131, "titleY": 17.5, "titleBaseline": "top", "titleAlign": "center",
                          "values": [0, 0.125, 0.25, 0.375, 0.5, 0.625, 0.75, 0.875, 1],
                          "labelExpr": "datum.value === 0 ? '0' : (datum.value * 4 % 1 === 0 ? format(datum.value, '.2f') : '')",
                          "labelFont": "DejaVu Sans", "labelFontSize": 11.5, "labelPadding": 2, "tickSize": 3, "tickColor": "#B3B3B3",
                          "tickOpacity": {"condition": {"test": "datum.value * 4 % 1 === 0", "value": 1}, "value": 0},
                          "grid": true, "gridColor": {"condition": {"test": "datum.value * 4 % 1 === 0", "value": "#EBEBEB"}, "value": "#F5F5F5"}, "gridWidth": 0.6}},
           "y": {"field": "q", "type": "quantitative", "scale": {"domain": [-0.05, 1.05], "nice": false, "zero": false},
                 "axis": {"title": "QMDiab", "titleFont": "DejaVu Sans", "titleFontSize": 14, "titleX": -32, "titleY": 68, "titleAngle": 270, "titleAlign": "center", "titleBaseline": "bottom",
                          "values": [0, 0.125, 0.25, 0.375, 0.5, 0.625, 0.75, 0.875, 1],
                          "labelExpr": "datum.value === 0 ? '0' : (datum.value * 4 % 1 === 0 ? format(datum.value, '.2f') : '')",
                          "labelFont": "DejaVu Sans", "labelFontSize": 11.5, "labelPadding": 3, "tickSize": 3, "tickColor": "#B3B3B3",
                          "tickOpacity": {"condition": {"test": "datum.value * 4 % 1 === 0", "value": 1}, "value": 0},
                          "grid": true, "gridColor": {"condition": {"test": "datum.value * 4 % 1 === 0", "value": "#EBEBEB"}, "value": "#F5F5F5"}, "gridWidth": 0.6}}
         }},
        {"data": {"values": [{"g": 0.303, "q": 0.936, "label": "Pearson = 0.86"}]},
         "mark": {"type": "text", "font": "DejaVu Sans", "fontSize": 14, "color": "black"},
         "encoding": {"x": {"field": "g", "type": "quantitative"}, "y": {"field": "q", "type": "quantitative"}, "text": {"field": "label"}}}
      ]
    }
  ]
}
]
}
